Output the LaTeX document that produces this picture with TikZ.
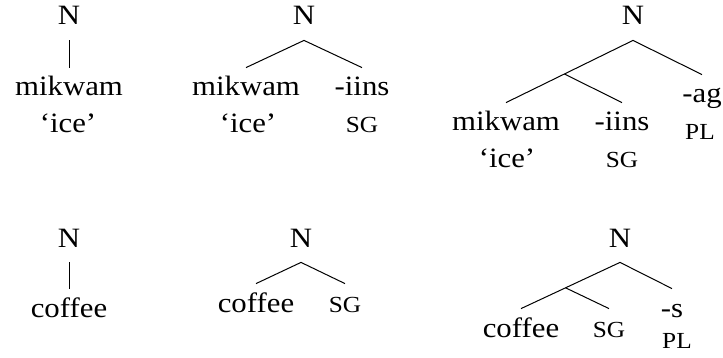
\documentclass[tikz,border=0pt]{standalone}
\usepackage{fontspec}
\setmainfont{Liberation Serif}[FakeStretch=1.1]
\usepackage{tikz}
\usetikzlibrary{calc}
\tikzset{
  cat/.style={anchor=base,inner sep=0pt,text depth=7.5pt,
              font=\fontsize{14}{16}\selectfont},
  word/.style={anchor=base,inner sep=0pt,text height=14pt,
               font=\fontsize{14}{16}\selectfont},
  gloss/.style={anchor=base,inner sep=0pt,
                font=\fontsize{14}{16}\selectfont},
  feat/.style={anchor=base,inner sep=0pt,text height=14pt,
               font=\fontsize{11.5}{13}\selectfont},
  branch/.style={line width=0.5pt}
}

\begin{document}
\begin{tikzpicture}[x=0.5pt,y=0.5pt]
  \useasboundingbox (0,0) rectangle (723,-358);
  % mikwam
  \node[cat] (n1) at (69,-25) {N};
  \node[word] (w1) at (69,-96) {mikwam};
  \node[gloss] (g1) at (68,-133) {`ice'};
  \draw[branch] (n1.south) -- (w1.north);
  % mikwam-iins
  \node[cat] (n2) at (304,-25) {N};
  \node[word] (w2a) at (246,-96) {mikwam};
  \node[word] (w2b) at (362,-96) {-iins};
  \node[gloss] (g2a) at (248,-133) {`ice'};
  \node[feat] (g2b) at (362,-133) {SG};
  \draw[branch] (n2.south) -- (w2a.north);
  \draw[branch] (n2.south) -- (w2b.north);
  % mikwam-iins-ag
  \node[cat] (n3) at (633,-25) {N};
  \node[word] (w3a) at (506,-131) {mikwam};
  \node[word] (w3b) at (622,-131) {-iins};
  \node[word] (w3c) at (702,-103) {-ag};
  \node[gloss] (g3a) at (507,-168) {`ice'};
  \node[feat] (g3b) at (622,-168) {SG};
  \node[feat] (g3c) at (700,-140) {PL};
  \coordinate (m3) at ($(n3.south)!0.54!(w3a.north)$);
  \draw[branch] (n3.south) -- (m3) -- (w3a.north);
  \draw[branch] (m3) -- (w3b.north);
  \draw[branch] (n3.south) -- (w3c.north);
  % coffee
  \node[cat] (n4) at (69,-247) {N};
  \node[word] (w4) at (69,-317) {coffee};
  \draw[branch] (n4.south) -- (w4.north);
  % coffee SG
  \node[cat] (n5) at (301,-247) {N};
  \node[word] (w5a) at (256,-312) {coffee};
  \node[feat] (w5b) at (345,-312) {SG};
  \draw[branch] (n5.south) -- (w5a.north);
  \draw[branch] (n5.south) -- (w5b.north);
  % coffee SG -s
  \node[cat] (n6) at (620,-247) {N};
  \node[word] (w6a) at (521,-337) {coffee};
  \node[feat] (w6b) at (609,-337) {SG};
  \node[word] (w6c) at (672,-317) {-s};
  \node[feat] (g6c) at (677,-348) {PL};
  \coordinate (m6) at ($(n6.south)!0.55!(w6a.north)$);
  \draw[branch] (n6.south) -- (m6) -- (w6a.north);
  \draw[branch] (m6) -- (w6b.north);
  \draw[branch] (n6.south) -- (w6c.north);
\end{tikzpicture}
\end{document}
